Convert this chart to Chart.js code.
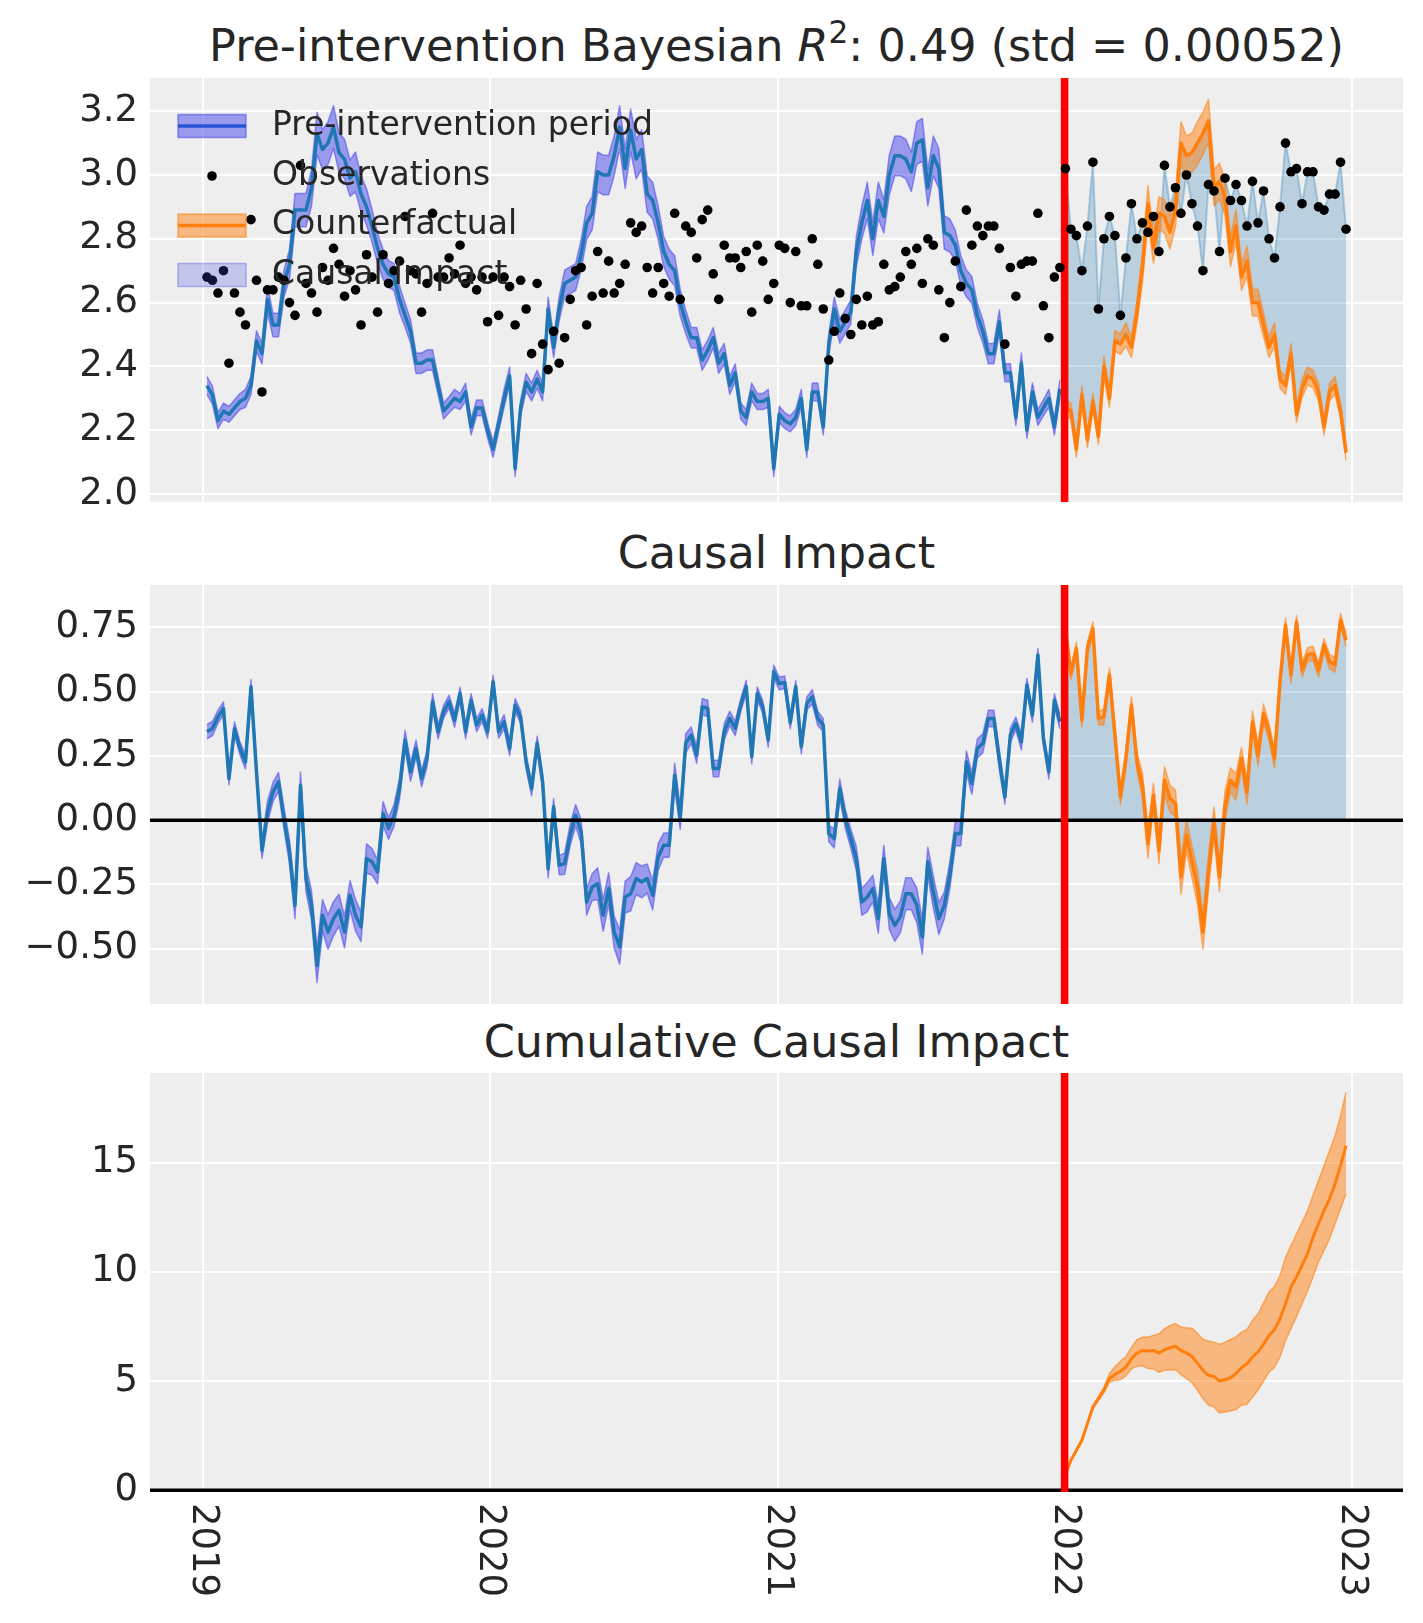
<!DOCTYPE html>
<html>
<head>
<meta charset="utf-8">
<script src="https://cdn.jsdelivr.net/npm/chart.js@4.4.1/dist/chart.umd.min.js"></script>
<style>
  body { margin: 0; background: #fff; width: 1423px; height: 1623px; position: relative; overflow: hidden; font-family: 'DejaVu Sans', sans-serif; }
  canvas { position: absolute; left: 0; }
  .ttl { position: absolute; left: 150px; width: 1253px; text-align: center; font-size: 44.5px; line-height: 44.5px; color: #262626; white-space: nowrap; }
  .ttl sup { font-size: 0.7em; vertical-align: baseline; position: relative; top: -0.6em; }
</style>
</head>
<body>
<div class="ttl" style="top:24.4px">Pre-intervention Bayesian <i>R</i><sup>2</sup>: 0.49 (std = 0.00052)</div>
<div class="ttl" style="top:531.4px">Causal Impact</div>
<div class="ttl" style="top:1020px">Cumulative Causal Impact</div>
<canvas id="c1" width="1423" height="484" style="top:48px"></canvas>
<canvas id="c2" width="1423" height="479" style="top:555px"></canvas>
<canvas id="c3" width="1423" height="580" style="top:1043px"></canvas>
<script>
// weekly data, first week and intervention date
const firstWeek = '2019-01-06';
const treatmentTime = '2022-01-01';
const yearTicks = ['2019', '2020', '2021', '2022', '2023'];
const fitTicks = [2.0, 2.2, 2.4, 2.6, 2.8, 3.0, 3.2];
const impactTicks = [-0.5, -0.25, 0, 0.25, 0.5, 0.75];
const cumTicks = [0, 5, 10, 15];

const observed = [
  2.68,2.67,2.63,2.70,2.41,2.63,2.57,2.53,2.86,2.67,
  2.32,2.64,2.64,2.68,2.67,2.60,2.56,3.03,2.66,2.63,
  2.57,2.71,2.67,2.77,2.72,2.62,2.70,2.64,2.53,2.75,
  2.68,2.57,2.75,2.66,2.70,2.73,2.87,2.70,2.69,2.57,
  2.66,2.88,2.68,2.68,2.74,2.69,2.78,2.66,2.68,2.64,
  2.68,2.54,2.68,2.56,2.68,2.65,2.53,2.67,2.58,2.44,
  2.66,2.47,2.39,2.51,2.41,2.49,2.61,2.70,2.71,2.53,
  2.62,2.76,2.63,2.73,2.63,2.66,2.72,2.85,2.82,2.84,
  2.71,2.63,2.71,2.66,2.62,2.88,2.61,2.84,2.82,2.74,
  2.86,2.89,2.69,2.61,2.78,2.74,2.74,2.71,2.76,2.57,
  2.78,2.73,2.61,2.66,2.78,2.77,2.60,2.76,2.59,2.59,
  2.80,2.72,2.58,2.42,2.51,2.63,2.55,2.50,2.61,2.53,
  2.62,2.53,2.54,2.72,2.64,2.65,2.68,2.76,2.72,2.77,
  2.66,2.80,2.78,2.64,2.49,2.60,2.73,2.65,2.89,2.78,
  2.84,2.81,2.84,2.84,2.77,2.47,2.71,2.62,2.72,2.73,
  2.73,2.88,2.59,2.49,2.68,2.71,
  3.02,2.83,2.81,2.70,2.84,3.04,2.58,2.80,2.87,2.81,
  2.56,2.74,2.91,2.80,2.85,2.82,2.87,2.76,3.03,2.90,
  2.96,2.88,3.00,2.91,2.84,2.70,2.97,2.95,2.76,2.99,
  2.92,2.97,2.92,2.84,2.98,2.85,2.95,2.80,2.74,2.90,
  3.10,3.01,3.02,2.91,3.01,3.01,2.90,2.89,2.94,2.94,
  3.04,2.83
];

// posterior mean of the model (pre-period fit, then counterfactual)
const fitted = [
  2.34,2.31,2.23,2.26,2.25,2.27,2.29,2.30,2.34,2.48,
  2.44,2.61,2.53,2.53,2.66,2.72,2.89,2.89,2.89,2.96,
  3.13,3.08,3.10,3.15,3.07,3.05,2.99,3.01,2.94,2.90,
  2.84,2.77,2.72,2.69,2.68,2.61,2.56,2.51,2.41,2.41,
  2.42,2.42,2.34,2.26,2.28,2.30,2.29,2.32,2.21,2.27,
  2.27,2.20,2.14,2.22,2.30,2.37,2.08,2.27,2.35,2.32,
  2.36,2.32,2.58,2.46,2.58,2.66,2.67,2.68,2.75,2.85,
  2.88,3.01,3.00,3.00,3.06,3.15,3.02,3.14,3.05,3.08,
  2.94,2.92,2.85,2.76,2.72,2.70,2.60,2.54,2.49,2.49,
  2.42,2.45,2.49,2.41,2.44,2.34,2.38,2.26,2.24,2.32,
  2.29,2.29,2.30,2.08,2.25,2.23,2.22,2.24,2.30,2.14,
  2.32,2.32,2.21,2.47,2.58,2.51,2.54,2.57,2.76,2.85,
  2.92,2.80,2.92,2.87,3.00,3.06,3.06,3.05,3.01,3.10,
  3.11,2.96,3.06,3.02,2.82,2.81,2.78,2.70,2.66,2.64,
  2.56,2.51,2.44,2.44,2.54,2.38,2.38,2.24,2.41,2.20,
  2.32,2.24,2.27,2.30,2.21,2.33,
  2.27,2.26,2.14,2.31,2.17,2.29,2.18,2.40,2.30,2.48,
  2.47,2.50,2.46,2.57,2.71,2.91,2.77,2.88,2.87,2.82,
  2.89,3.10,3.06,3.07,3.10,3.13,3.17,2.96,2.98,2.93,
  2.76,2.84,2.68,2.73,2.60,2.60,2.53,2.46,2.50,2.36,
  2.34,2.44,2.25,2.33,2.37,2.36,2.32,2.21,2.32,2.34,
  2.26,2.13
];

// half width of the HDI band around the fit
const bandHalf = [
  .028,.028,.025,.025,.025,.025,.025,.028,.028,.032,
  .032,.042,.037,.037,.042,.047,.052,.052,.052,.057,
  .067,.062,.067,.067,.062,.062,.057,.062,.057,.057,
  .052,.047,.047,.042,.042,.042,.037,.037,.032,.032,
  .032,.032,.028,.025,.025,.028,.025,.028,.025,.025,
  .025,.025,.025,.025,.028,.028,.025,.025,.028,.028,
  .028,.028,.037,.032,.037,.042,.042,.042,.047,.052,
  .052,.062,.062,.062,.062,.067,.062,.067,.062,.062,
  .057,.057,.052,.047,.047,.047,.042,.037,.032,.032,
  .032,.032,.032,.032,.032,.028,.028,.025,.025,.028,
  .025,.025,.028,.025,.025,.025,.025,.025,.028,.025,
  .028,.028,.025,.032,.037,.037,.037,.037,.047,.052,
  .057,.052,.057,.052,.062,.062,.062,.062,.062,.067,
  .067,.057,.062,.062,.052,.052,.047,.047,.042,.042,
  .037,.037,.032,.032,.037,.028,.028,.025,.032,.025,
  .028,.025,.025,.028,.025,.028,
  .025,.025,.025,.028,.025,.025,.025,.032,.028,.032,
  .032,.037,.032,.037,.047,.057,.047,.052,.052,.052,
  .052,.067,.062,.062,.067,.067,.067,.057,.057,.057,
  .047,.052,.042,.047,.042,.042,.037,.032,.037,.028,
  .028,.032,.025,.028,.028,.028,.028,.025,.028,.028,
  .025,.025
];

const impact = [
  0.344,0.357,0.402,0.435,0.162,0.357,0.279,0.227,0.519,0.188,
  -0.117,0.032,0.110,0.149,0.006,-0.123,-0.331,0.136,-0.227,-0.331,
  -0.565,-0.370,-0.435,-0.383,-0.350,-0.435,-0.292,-0.370,-0.415,-0.149,
  -0.162,-0.201,0.026,-0.032,0.019,0.123,0.312,0.188,0.279,0.162,
  0.240,0.461,0.344,0.422,0.461,0.389,0.493,0.344,0.467,0.370,
  0.409,0.344,0.539,0.344,0.383,0.279,0.448,0.402,0.227,0.123,
  0.299,0.149,-0.188,0.052,-0.175,-0.169,-0.058,0.019,-0.045,-0.318,
  -0.260,-0.247,-0.370,-0.266,-0.435,-0.493,-0.299,-0.286,-0.227,-0.240,
  -0.227,-0.292,-0.143,-0.097,-0.097,0.175,0.006,0.299,0.331,0.253,
  0.441,0.435,0.201,0.201,0.344,0.396,0.357,0.448,0.519,0.247,
  0.493,0.441,0.312,0.578,0.532,0.536,0.380,0.519,0.286,0.454,
  0.480,0.396,0.370,-0.052,-0.071,0.123,0.006,-0.071,-0.149,-0.318,
  -0.299,-0.266,-0.383,-0.149,-0.363,-0.409,-0.376,-0.286,-0.286,-0.331,
  -0.454,-0.162,-0.279,-0.383,-0.331,-0.214,-0.052,-0.052,0.227,0.143,
  0.279,0.299,0.396,0.396,0.234,0.091,0.331,0.376,0.305,0.526,
  0.409,0.643,0.318,0.188,0.467,0.383,
  0.746,0.571,0.668,0.389,0.668,0.746,0.396,0.402,0.565,0.331,
  0.091,0.240,0.448,0.227,0.136,-0.091,0.097,-0.117,0.156,0.084,
  0.065,-0.221,-0.058,-0.162,-0.260,-0.435,-0.201,-0.006,-0.221,0.058,
  0.156,0.130,0.240,0.110,0.383,0.253,0.415,0.344,0.240,0.539,
  0.759,0.565,0.772,0.584,0.643,0.649,0.584,0.681,0.617,0.604,
  0.779,0.701
];

// cumulative impact, post period only
const cumImpact = [
  0.72,1.37,1.83,2.29,3.05,3.81,4.19,4.57,5.11,5.30,
  5.44,5.64,6.02,6.28,6.40,6.37,6.40,6.28,6.43,6.52,
  6.59,6.40,6.28,6.13,5.82,5.49,5.26,5.21,5.00,5.06,
  5.15,5.34,5.61,5.79,6.10,6.33,6.68,7.09,7.35,7.85,
  8.54,9.30,9.76,10.29,10.82,11.59,12.20,12.80,13.34,14.02,
  14.86,15.78
];
const cumLower = [
  0.70,1.33,1.78,2.23,2.98,3.73,4.10,4.46,4.96,5.02,
  5.06,5.24,5.56,5.67,5.70,5.57,5.56,5.40,5.48,5.51,
  5.52,5.29,5.11,4.93,4.58,4.19,3.89,3.81,3.54,3.58,
  3.63,3.69,3.89,3.93,4.27,4.58,4.99,5.41,5.62,6.10,
  6.85,7.40,7.95,8.54,9.12,9.76,10.45,10.97,11.51,12.19,
  12.88,13.57
];
const cumUpper = [
  0.74,1.42,1.88,2.36,3.13,3.89,4.30,4.72,5.34,5.65,
  5.90,6.12,6.55,6.89,7.01,7.01,7.09,7.16,7.39,7.54,
  7.63,7.47,7.44,7.42,7.18,6.91,6.83,6.78,6.68,6.78,
  6.90,7.02,7.24,7.36,7.78,8.08,8.58,9.07,9.33,9.83,
  10.67,11.20,11.74,12.27,12.80,13.50,14.18,14.86,15.55,16.23,
  17.15,18.22
];

const DAY = 86400000;
const t0 = Date.parse(firstWeek);
const weeks = observed.map((_, i) => t0 + i * 7 * DAY);
const N = weeks.length;
const tTreat = Date.parse(treatmentTime);
const nPre = weeks.filter(t => t < tTreat).length;
const span = weeks[N - 1] - weeks[0];
const xMin = weeks[0] - 0.05 * span, xMax = weeks[N - 1] + 0.05 * span;
const yearTs = yearTicks.map(y => Date.parse(y + '-01-01'));

const pts = (vals, from, to, off = 0) => vals.slice(from, to).map((v, i) => ({ x: weeks[from + off + i], y: v }));
const fitLo = fitted.map((v, i) => v - bandHalf[i]);
const fitHi = fitted.map((v, i) => v + bandHalf[i]);
const impLo = impact.map((v, i) => v - bandHalf[i]);
const impHi = impact.map((v, i) => v + bandHalf[i]);

Chart.defaults.font.family = "'DejaVu Sans', sans-serif";
const C0 = '#1f77b4', C1 = '#ff7f0e';
const preFill = 'rgba(70,70,235,0.5)', preEdge = 'rgba(70,70,235,0.55)';
const postFill = 'rgba(255,127,14,0.5)', postEdge = 'rgba(255,127,14,0.55)';
const impactFill = 'rgba(31,119,180,0.25)';

function line(data, color, width, order, extra) {
  return Object.assign({ data, borderColor: color, borderWidth: width, pointRadius: 0,
    fill: false, order, borderJoinStyle: 'round' }, extra || {});
}

const panelBg = {
  id: 'panelBg',
  beforeDraw(chart) {
    const { ctx, chartArea: a } = chart;
    ctx.save();
    ctx.fillStyle = '#eeeeee';
    ctx.fillRect(a.left, a.top, a.right - a.left, a.bottom - a.top);
    ctx.restore();
  }
};

const legendItems = [
  { label: 'Pre-intervention period', fill: preFill, edge: preEdge, stroke: '#2a52d6' },
  { label: 'Observations', dot: true },
  { label: 'Counterfactual', fill: postFill, edge: postEdge, stroke: C1 },
  { label: 'Causal Impact', fill: 'rgba(70,70,235,0.25)', edge: 'rgba(70,70,235,0.35)' }
];
const legendBox = {
  id: 'legendBox',
  afterDatasetsDraw(chart) {
    const { ctx, chartArea: a } = chart;
    const rows = [48, 98, 147.5, 197];
    ctx.save();
    ctx.font = "33px 'DejaVu Sans'";
    ctx.textBaseline = 'middle';
    legendItems.forEach((it, i) => {
      const y = a.top + rows[i], x0 = a.left + 28, x1 = a.left + 96;
      if (it.dot) {
        ctx.beginPath();
        ctx.arc((x0 + x1) / 2, y, 4.8, 0, 2 * Math.PI);
        ctx.fillStyle = '#000';
        ctx.fill();
      } else {
        ctx.fillStyle = it.fill;
        ctx.fillRect(x0, y - 11.5, x1 - x0, 23);
        ctx.strokeStyle = it.edge;
        ctx.lineWidth = 1.5;
        ctx.strokeRect(x0, y - 11.5, x1 - x0, 23);
        if (it.stroke) {
          ctx.beginPath();
          ctx.moveTo(x0, y); ctx.lineTo(x1, y);
          ctx.strokeStyle = it.stroke; ctx.lineWidth = 3.5;
          ctx.stroke();
        }
      }
      ctx.fillStyle = '#262626';
      ctx.fillText(it.label, a.left + 122, y);
    });
    ctx.restore();
  }
};

const yearLabels = {
  id: 'yearLabels',
  afterDraw(chart) {
    const { ctx, chartArea: a, scales: { x } } = chart;
    ctx.save();
    ctx.font = "37px 'DejaVu Sans'";
    ctx.fillStyle = '#262626';
    ctx.textAlign = 'left';
    ctx.textBaseline = 'middle';
    yearTicks.forEach((lab, i) => {
      ctx.save();
      ctx.translate(x.getPixelForValue(yearTs[i]), a.bottom + 11);
      ctx.rotate(Math.PI / 2);
      ctx.fillText(lab, 0, 0);
      ctx.restore();
    });
    ctx.restore();
  }
};

function options(yMin, yMax, yTicks, fmt, bottomPad) {
  return {
    responsive: false, animation: false, devicePixelRatio: 1, events: [],
    layout: { padding: { top: 30, bottom: bottomPad, left: 0, right: 20 } },
    plugins: { legend: { display: false }, tooltip: { enabled: false } },
    scales: {
      x: {
        type: 'linear', min: xMin, max: xMax,
        afterBuildTicks: s => { s.ticks = yearTs.map(v => ({ value: v })); },
        afterFit: s => { s.height = 0; s.paddingLeft = 0; s.paddingRight = 0; },
        ticks: { display: false },
        border: { display: false },
        grid: { color: '#ffffff', lineWidth: 2, drawTicks: false }
      },
      y: {
        type: 'linear', min: yMin, max: yMax,
        afterBuildTicks: s => { s.ticks = yTicks.map(v => ({ value: v })); },
        afterFit: s => { s.width = 150; s.paddingTop = 0; s.paddingBottom = 0; },
        ticks: { callback: fmt, color: '#262626', padding: 12, font: { size: 37 } },
        border: { display: false },
        grid: { color: '#ffffff', lineWidth: 2, drawTicks: false }
      }
    }
  };
}

const minus = s => s.replace('-', '\u2212');

// panel 1: observations and fit
const y1 = [1.975, 3.304];
new Chart(document.getElementById('c1'), {
  type: 'line',
  data: { datasets: [
    line(pts(observed, 0, N), '#000', 0, 0, { showLine: false, pointRadius: 4.8, pointBackgroundColor: '#000', pointBorderWidth: 0 }),
    line([{ x: tTreat, y: y1[0] }, { x: tTreat, y: y1[1] }], '#ff0000', 7.5, 1),
    line(pts(fitted, 0, nPre), C0, 3.5, 2),
    line(pts(fitted, nPre, N), C1, 3.5, 2),
    line(pts(fitHi, 0, nPre), preEdge, 1.5, 3, { fill: 5, backgroundColor: preFill }),
    line(pts(fitLo, 0, nPre), preEdge, 1.5, 3),
    line(pts(fitHi, nPre, N), postEdge, 1.5, 3, { fill: 7, backgroundColor: postFill }),
    line(pts(fitLo, nPre, N), postEdge, 1.5, 3),
    line(pts(observed, nPre, N), 'rgba(31,119,180,0.3)', 2, 5, { fill: 3, backgroundColor: impactFill })
  ] },
  options: options(y1[0], y1[1], fitTicks, v => v.toFixed(1), 30),
  plugins: [panelBg, legendBox]
});

// panel 2: causal impact
const y2 = [-0.715, 0.915];
new Chart(document.getElementById('c2'), {
  type: 'line',
  data: { datasets: [
    line([{ x: tTreat, y: y2[0] }, { x: tTreat, y: y2[1] }], '#ff0000', 7.5, 0),
    line([{ x: xMin, y: 0 }, { x: xMax, y: 0 }], '#000', 3.5, 1),
    line(pts(impact, 0, nPre), C0, 3.5, 2),
    line(pts(impact, nPre, N), C1, 3.5, 2),
    line(pts(impHi, 0, nPre), preEdge, 1.5, 3, { fill: 5, backgroundColor: preFill }),
    line(pts(impLo, 0, nPre), preEdge, 1.5, 3),
    line(pts(impHi, nPre, N), postEdge, 1.5, 3, { fill: 7, backgroundColor: postFill }),
    line(pts(impLo, nPre, N), postEdge, 1.5, 3),
    line(pts(impact, nPre, N), 'rgba(0,0,0,0)', 0, 5, { fill: { value: 0 }, backgroundColor: impactFill })
  ] },
  options: options(y2[0], y2[1], impactTicks, v => minus(v.toFixed(2)), 30),
  plugins: [panelBg]
});

// panel 3: cumulative impact
const y3 = [-0.08, 19.1];
new Chart(document.getElementById('c3'), {
  type: 'line',
  data: { datasets: [
    line([{ x: tTreat, y: y3[0] }, { x: tTreat, y: y3[1] }], '#ff0000', 7.5, 0),
    line([{ x: xMin, y: 0 }, { x: xMax, y: 0 }], '#000', 3.5, 1),
    line(pts(cumImpact, 0, cumImpact.length, nPre), C1, 3, 2),
    line(pts(cumUpper, 0, cumUpper.length, nPre), postEdge, 1.5, 3, { fill: 4, backgroundColor: postFill }),
    line(pts(cumLower, 0, cumLower.length, nPre), postEdge, 1.5, 3)
  ] },
  options: options(y3[0], y3[1], cumTicks, v => String(v), 131),
  plugins: [panelBg, yearLabels]
});
</script>
</body>
</html>
